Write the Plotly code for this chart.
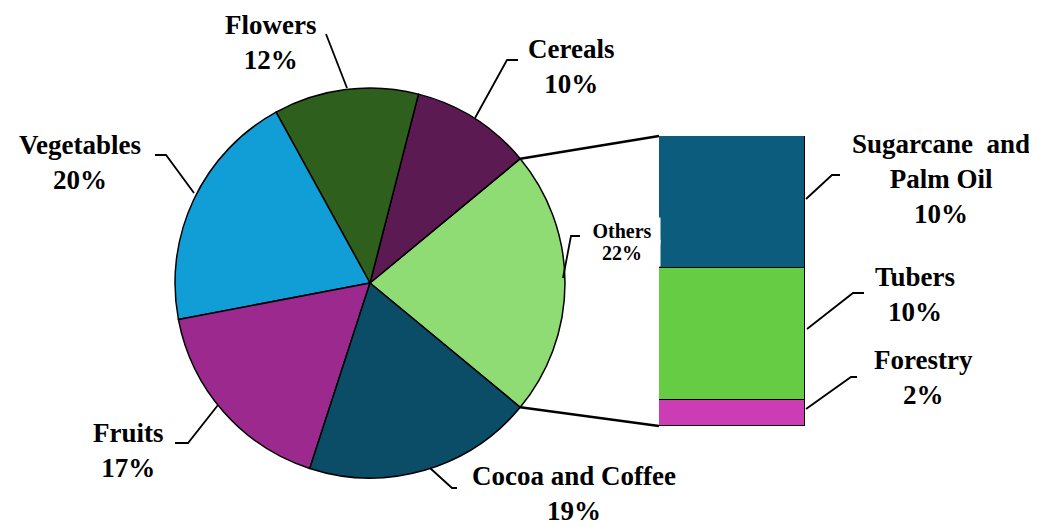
import math
import plotly.graph_objects as go

# ---- data ----
pie_labels = ["Others", "Cereals", "Flowers", "Vegetables", "Fruits", "Cocoa and Coffee"]
pie_values = [22, 10, 12, 20, 17, 19]
pie_colors = ["#8FDB74", "#5C1A52", "#2E5F1C", "#119ED6", "#9C2A8E", "#0B4D66"]

bar_labels = ["Forestry", "Tubers", "Sugarcane  and<br>Palm Oil"]
bar_values = [2, 10, 10]
bar_colors = ["#CC3DB5", "#66CC44", "#0B5C7D"]

# ---- layout constants (screen pixels) ----
OFF = 8                      # default page body margin
W, H = 1037 - OFF, 527 - OFF
cx, cy, r = 370, 283, 195
bar_x0, bar_x1, bar_y0, bar_y1 = 659, 805, 136, 426
FONT = "Liberation Serif"
FS = 27


def px(x):
    return (x - OFF) / W


def py(y):
    return 1 - (y - OFF) / H


others_frac = pie_values[0] / sum(pie_values)
half = others_frac * 180.0  # half angle of Others slice (deg)

fig = go.Figure()
fig.add_trace(go.Pie(
    labels=pie_labels, values=pie_values, sort=False,
    direction="counterclockwise", rotation=90 - half,
    marker=dict(colors=pie_colors, line=dict(color="black", width=1.5)),
    textinfo="none", hoverinfo="label+percent", showlegend=False,
    domain=dict(x=[px(cx - r), px(cx + r)], y=[py(cy + r), py(cy - r)]),
))

for lab, val, col in zip(bar_labels, bar_values, bar_colors):
    fig.add_trace(go.Bar(
        x=[0], y=[val], name=lab, marker=dict(color=col, line=dict(color="black", width=1.5)),
        width=1, showlegend=False, xaxis="x", yaxis="y",
    ))

total_bar = sum(bar_values)

shapes = []
# connector lines from the Others slice edges to the bar corners
for sgn, ycorner in [(1, bar_y0), (-1, bar_y1)]:
    ang = math.radians(sgn * half)
    x0 = cx + r * math.cos(ang)
    y0 = cy - r * math.sin(ang)
    shapes.append(dict(type="line", xref="paper", yref="paper",
                       x0=px(x0), y0=py(y0), x1=px(bar_x0), y1=py(ycorner),
                       line=dict(color="black", width=2.5)))

# leader lines (pixel polylines)
leaders = [
    [(326, 34), (347, 88)],                 # Flowers
    [(518, 60), (507, 60), (475, 118)],     # Cereals
    [(155, 155), (166, 155), (194, 193)],   # Vegetables
    [(175, 443), (188, 443), (218, 405)],   # Fruits
    [(430, 468), (452, 488), (457, 488)],   # Cocoa
    [(563, 278), (571, 236), (580, 236)],   # Others
    [(806, 199), (832, 175), (840, 175)],   # Sugarcane
    [(807, 329), (853, 293), (864, 293)],   # Tubers
    [(806, 409), (851, 377), (857, 377)],   # Forestry
]
for pts in leaders:
    path = "M " + " L ".join(f"{px(x):.5f},{py(y):.5f}" for x, y in pts)
    shapes.append(dict(type="path", xref="paper", yref="paper", path=path,
                       line=dict(color="black", width=1.8)))

pct = dict(zip(pie_labels, pie_values))
bpct = dict(zip(bar_labels, bar_values))
labels_pos = [
    ("Flowers", f"{pct['Flowers']}%", 270, 42),
    ("Cereals", f"{pct['Cereals']}%", 571, 66),
    ("Vegetables", f"{pct['Vegetables']}%", 80, 162),
    ("Fruits", f"{pct['Fruits']}%", 128, 450),
    ("Cocoa and Coffee", f"{pct['Cocoa and Coffee']}%", 574, 493),
    ("Tubers", f"{bpct['Tubers']}%", 915, 294),
    ("Forestry", f"{bpct['Forestry']}%", 923, 377),
]
annotations = []
for name, p, x, y in labels_pos:
    annotations.append(dict(text=f"<b>{name}<br>{p}</b>", x=px(x), y=py(y), xref="paper", yref="paper",
                            showarrow=False, xanchor="center", yanchor="middle",
                            font=dict(family=FONT, size=FS, color="black")))
annotations.append(dict(text=f"<b>Sugarcane  and<br>Palm Oil<br>{bpct['Sugarcane  and<br>Palm Oil']}%</b>",
                        x=px(941), y=py(179), xref="paper", yref="paper", showarrow=False,
                        xanchor="center", yanchor="middle",
                        font=dict(family=FONT, size=FS, color="black")))
for txt, yy in [("Others", 231), (f"{pct['Others']}%", 253)]:
    annotations.append(dict(text=f"<b>{txt}</b>", x=px(622), y=py(yy),
                            xref="paper", yref="paper", showarrow=False, xanchor="center", yanchor="middle",
                            bgcolor="white", width=74, height=24,
                            font=dict(family=FONT, size=20, color="black")))

fig.update_layout(
    width=W, height=H, margin=dict(l=0, r=0, t=0, b=0),
    paper_bgcolor="white", plot_bgcolor="rgba(0,0,0,0)",
    barmode="stack", bargap=0,
    xaxis=dict(domain=[px(bar_x0), px(bar_x1)], range=[-0.5, 0.5], visible=False, fixedrange=True),
    yaxis=dict(domain=[py(bar_y1), py(bar_y0)], range=[0, total_bar], visible=False, fixedrange=True),
    shapes=shapes, annotations=annotations,
)

fig.write_html("out.html")
